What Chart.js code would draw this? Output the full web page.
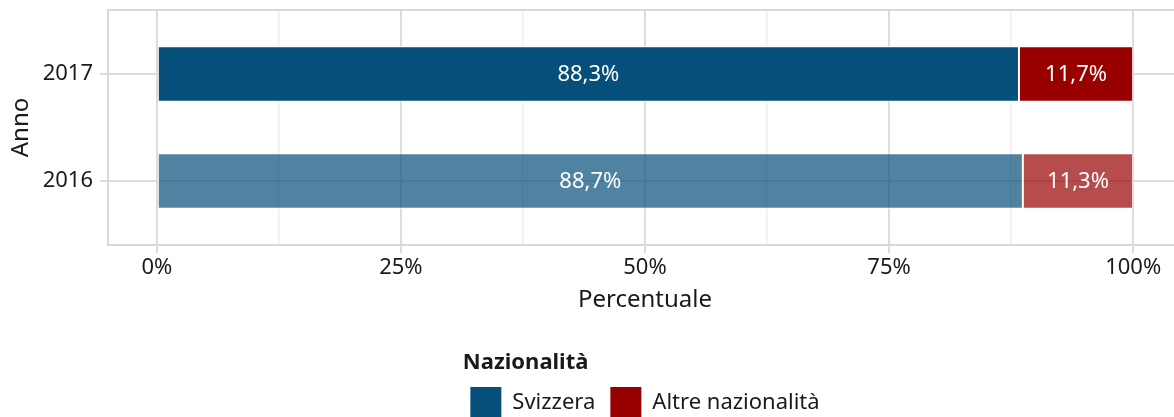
<!DOCTYPE html>
<html>
<head>
<meta charset="utf-8">
<script src="https://cdn.jsdelivr.net/npm/chart.js@4"></script>
<style>
  html, body { margin: 0; padding: 0; background: #fff; overflow: hidden; }
  #wrap { width: 1190px; height: 428px; }
</style>
</head>
<body>
<div id="wrap"><canvas id="chart" width="1190" height="428"></canvas></div>
<script>
// Data
const years = ['2017', '2016'];
const yearPos = [2, 1];            // 2017 on top
const svizzera = [88.3, 88.7];
const altre = [11.7, 11.3];
const seriesNames = ['Svizzera', 'Altre nazionalità'];
const xTickValues = [0, 12.5, 25, 37.5, 50, 62.5, 75, 87.5, 100];

const FONT = "'Noto Sans', 'Open Sans', sans-serif";
const blue = '#064f7a';
const red = '#990000';
const blueLight = 'rgba(6, 79, 122, 0.7)';
const redLight = 'rgba(153, 0, 0, 0.7)';

const fmt = v => v.toFixed(1).replace('.', ',') + '%';

// Panel border drawn under the bars
const panelBorder = {
    id: 'panelBorder',
    beforeDatasetsDraw(chart) {
        const { ctx, chartArea: a } = chart;
        ctx.save();
        ctx.strokeStyle = '#d9d9d9';
        ctx.lineWidth = 2;
        ctx.strokeRect(a.left, a.top, a.right - a.left, a.bottom - a.top);
        ctx.restore();
    }
};

// Value labels centred in each segment
const barLabels = {
    id: 'barLabels',
    afterDatasetsDraw(chart) {
        const { ctx } = chart;
        ctx.save();
        ctx.font = `22px ${FONT}`;
        ctx.fillStyle = '#ffffff';
        ctx.textAlign = 'center';
        ctx.textBaseline = 'middle';
        chart.data.datasets.forEach((ds, di) => {
            chart.getDatasetMeta(di).data.forEach((bar, i) => {
                const { x, base, y } = bar.getProps(['x', 'base', 'y'], true);
                ctx.fillText(fmt(ds.data[i].x), (x + base) / 2, y + 1);
            });
        });
        ctx.restore();
    }
};

new Chart(document.getElementById('chart'), {
    type: 'bar',
    data: {
        datasets: [
            {
                label: seriesNames[0],
                data: yearPos.map((p, i) => ({ x: svizzera[i], y: p })),
                backgroundColor: [blue, blueLight],
                borderColor: '#ffffff',
                borderWidth: 1,
                borderSkipped: false
            },
            {
                label: seriesNames[1],
                data: yearPos.map((p, i) => ({ x: altre[i], y: p })),
                backgroundColor: [red, redLight],
                borderColor: '#ffffff',
                borderWidth: 1,
                borderSkipped: false
            }
        ]
    },
    options: {
        indexAxis: 'y',
        responsive: false,
        animation: false,
        barPercentage: 0.52,
        categoryPercentage: 1,
        layout: { padding: { top: 10, right: 8, left: 0, bottom: 0 } },
        scales: {
            x: {
                type: 'linear',
                stacked: true,
                min: -5,
                max: 105,
                afterBuildTicks: scale => {
                    scale.ticks = xTickValues.map(v => ({ value: v }));
                },
                afterFit: scale => {
                    scale.paddingLeft = 0;
                    scale.paddingRight = 0;
                },
                ticks: {
                    autoSkip: false,
                    maxRotation: 0,
                    padding: 2,
                    color: '#1a1a1a',
                    font: { family: FONT, size: 22 },
                    callback: v => (v % 25 === 0 ? v + '%' : '')
                },
                grid: {
                    color: c => (c.tick && c.tick.value % 25 === 0 ? '#dcdcdc' : '#efefef'),
                    lineWidth: c => (c.tick && c.tick.value % 25 === 0 ? 2 : 1.5),
                    tickColor: c => (c.tick && c.tick.value % 25 === 0 ? '#dcdcdc' : 'rgba(0,0,0,0)'),
                    tickLength: 8,
                    tickWidth: 2
                },
                border: { display: false },
                title: {
                    display: true,
                    text: 'Percentuale',
                    color: '#1a1a1a',
                    font: { family: FONT, size: 24 },
                    padding: { top: 2, bottom: 23.4 }
                }
            },
            y: {
                type: 'linear',
                stacked: true,
                offset: false,
                min: 0.4,
                max: 2.6,
                afterBuildTicks: scale => {
                    scale.ticks = yearPos.map(v => ({ value: v }));
                },
                afterFit: scale => {
                    scale.width = 108;
                    scale.paddingTop = 0;
                    scale.paddingBottom = 0;
                },
                ticks: {
                    autoSkip: false,
                    padding: 7,
                    color: '#1a1a1a',
                    font: { family: FONT, size: 22 },
                    callback: v => years[yearPos.indexOf(v)]
                },
                grid: {
                    offset: false,
                    color: '#dcdcdc',
                    lineWidth: 2,
                    tickLength: 8
                },
                border: { display: false },
                title: {
                    display: true,
                    text: 'Anno',
                    color: '#1a1a1a',
                    font: { family: FONT, size: 24 },
                    padding: { top: 7, bottom: 0 }
                }
            }
        },
        plugins: {
            tooltip: { enabled: false },
            legend: {
                position: 'bottom',
                fullSize: false,
                labels: {
                    color: '#1a1a1a',
                    font: { family: FONT, size: 22 },
                    boxWidth: 31,
                    boxHeight: 31,
                    padding: 15,
                    generateLabels: chart => chart.data.datasets.map((ds, i) => ({
                        text: ds.label,
                        fillStyle: ds.backgroundColor[0],
                        strokeStyle: ds.backgroundColor[0],
                        lineWidth: 0,
                        datasetIndex: i
                    }))
                },
                title: {
                    display: true,
                    text: 'Nazionalità',
                    position: 'start',
                    color: '#1a1a1a',
                    font: { family: FONT, size: 22, weight: 'bold' },
                    padding: { top: 14, bottom: -6 }
                }
            }
        }
    },
    plugins: [panelBorder, barLabels]
});
</script>
</body>
</html>
